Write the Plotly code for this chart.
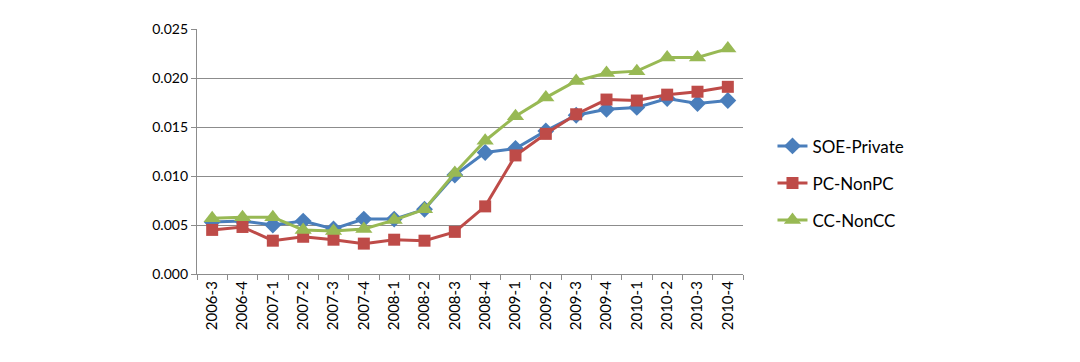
import plotly.graph_objects as go

quarters = ["2006-3", "2006-4", "2007-1", "2007-2", "2007-3", "2007-4", "2008-1", "2008-2", "2008-3",
            "2008-4", "2009-1", "2009-2", "2009-3", "2009-4", "2010-1", "2010-2", "2010-3", "2010-4"]
soe_private = [0.0053, 0.0054, 0.0050, 0.0054, 0.0046, 0.0056, 0.0056, 0.0066, 0.0101,
               0.0124, 0.0128, 0.0146, 0.0162, 0.0168, 0.0170, 0.0179, 0.0174, 0.0177]
pc_nonpc = [0.0045, 0.0048, 0.0034, 0.0038, 0.0035, 0.0031, 0.0035, 0.0034, 0.0043,
            0.0069, 0.0121, 0.0143, 0.0163, 0.0178, 0.0177, 0.0183, 0.0186, 0.0191]
cc_noncc = [0.0057, 0.0058, 0.0058, 0.0045, 0.0044, 0.0046, 0.0055, 0.0066, 0.0103,
            0.0136, 0.0161, 0.0180, 0.0197, 0.0205, 0.0207, 0.0221, 0.0221, 0.0230]
y_ticks = [0.000, 0.005, 0.010, 0.015, 0.020, 0.025]

series = [
    ("SOE-Private", soe_private, "#4a7ebb", "diamond", 13),
    ("PC-NonPC", pc_nonpc, "#be4b48", "square", 12),
    ("CC-NonCC", cc_noncc, "#98b954", "triangle-up", 15),
]

fig = go.Figure()
for name, vals, color, sym, size in series:
    fig.add_trace(go.Scatter(
        x=quarters, y=vals, name=name, mode="lines+markers",
        line=dict(color=color, width=3),
        marker=dict(symbol=sym, size=size, color=color),
        legendgroup=name,
    ))

fig.update_layout(
    width=1072, height=354,
    margin=dict(l=189, r=337, t=18, b=88),
    paper_bgcolor="white", plot_bgcolor="white",
    font=dict(family="Lato, Open Sans, sans-serif", color="#000000", size=14),
    legend=dict(x=1.054, y=0.37, xanchor="left", yanchor="middle",
                font=dict(size=17), tracegroupgap=12, bgcolor="rgba(0,0,0,0)"),
    showlegend=True,
)
fig.update_xaxes(
    type="category", tickangle=-90, tickson="boundaries", ticks="outside", ticklen=5,
    tickcolor="#8c8c8c", showline=True, linecolor="#8c8c8c", linewidth=1.3,
    showgrid=False, tickfont=dict(size=15), range=[-0.5, len(quarters) - 0.5],
)
fig.update_yaxes(
    range=[0, 0.025], tickvals=y_ticks, tickformat=".3f", ticks="outside", ticklen=5,
    tickcolor="#8c8c8c", showline=True, linecolor="#8c8c8c", linewidth=1.3,
    showgrid=True, gridcolor="#8c8c8c", gridwidth=1.2, zeroline=False,
    tickfont=dict(size=14),
)

fig.write_html("out.html")
